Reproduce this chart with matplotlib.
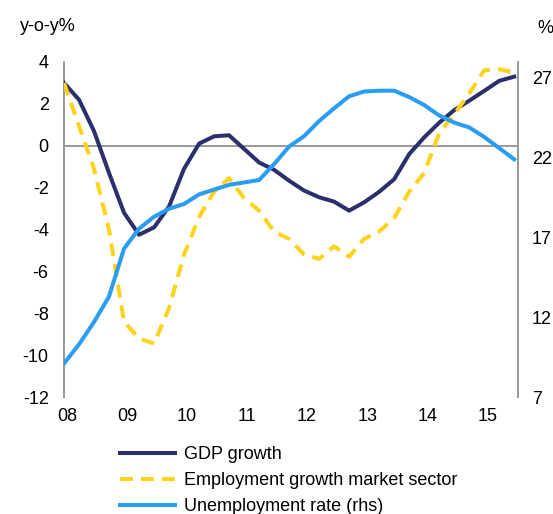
import matplotlib.pyplot as plt

plt.rcParams['font.family'] = ['Liberation Sans', 'DejaVu Sans']
plt.rcParams['axes.unicode_minus'] = False

# quarterly observations, 2008Q1 .. 2015Q3
quarters = list(range(31))
year_labels = ['08', '09', '10', '11', '12', '13', '14', '15']

gdp_growth = [3.0, 2.2, 0.7, -1.3, -3.2, -4.25, -3.9, -2.9, -1.1, 0.1, 0.45, 0.5,
              -0.15, -0.8, -1.15, -1.67, -2.14, -2.46, -2.67, -3.1, -2.7, -2.2,
              -1.6, -0.4, 0.4, 1.1, 1.7, 2.15, 2.62, 3.1, 3.3]
employment_growth = [3.0, 0.95, -1.1, -4.0, -8.4, -9.2, -9.45, -7.75, -5.2, -3.4, -2.2, -1.55,
                     -2.5, -3.1, -4.1, -4.45, -5.2, -5.4, -4.8, -5.3, -4.45, -4.1,
                     -3.45, -2.2, -1.3, 0.6, 1.5, 2.5, 3.6, 3.65, 3.5]
unemployment_rate = [9.1, 10.3, 11.7, 13.3, 16.3, 17.55, 18.3, 18.8, 19.1, 19.7, 20.0, 20.3,
                     20.45, 20.6, 21.6, 22.7, 23.35, 24.3, 25.1, 25.85, 26.15, 26.2,
                     26.2, 25.8, 25.3, 24.65, 24.2, 23.9, 23.3, 22.6, 21.9]

navy = '#2b2f6b'
gold = '#ffd21c'
sky = '#2a9df2'
grey = '#999999'

fig = plt.figure(figsize=(5.53, 5.14), dpi=100)
ax = fig.add_axes([0.1157, 0.2276, 0.8210, 0.6518])
ax2 = ax.twinx()

ax.axhline(0, color=grey, lw=1.4, zorder=1)
l1, = ax.plot(quarters, gdp_growth, color=navy, lw=2.9, zorder=3)
l2, = ax.plot(quarters, employment_growth, color=gold, lw=2.9, dashes=(3.2, 2.0), zorder=4)
l3, = ax2.plot(quarters, unemployment_rate, color=sky, lw=2.9)

ax.set_xlim(0, 30.25)
ax.set_ylim(-12, 4)
ax.set_yticks(range(-12, 5, 2))
ax2.set_ylim(7, 28)
ax2.set_yticks([7, 12, 17, 22, 27])
ax.set_xticks([q + 0.2 for q in range(0, 29, 4)])
ax.set_xticklabels(year_labels)

for a in (ax, ax2):
    for side in ('top', 'bottom'):
        a.spines[side].set_visible(False)
    a.spines['left'].set_color(grey)
    a.spines['right'].set_color(grey)
    a.spines['left'].set_linewidth(1.4)
    a.spines['right'].set_linewidth(1.4)
    a.tick_params(length=0, labelsize=13, colors='black')
ax.spines['right'].set_visible(False)
ax2.spines['left'].set_visible(False)
ax.tick_params(axis='y', pad=11)
ax2.tick_params(axis='y', pad=10)
ax.tick_params(axis='x', pad=8)

fig.text(0.036, 0.948, 'y-o-y%', fontsize=13, va='center')
fig.text(0.971, 0.945, '%', fontsize=13, va='center')

fig.legend([l1, l2, l3],
           ['GDP growth', 'Employment growth market sector', 'Unemployment rate (rhs)'],
           loc='upper left', bbox_to_anchor=(0.2175, 0.132), frameon=False,
           fontsize=13, handlelength=3.05, handletextpad=0.5, labelspacing=0.5,
           borderpad=0, borderaxespad=0)

fig.savefig('out.png', dpi=100)
